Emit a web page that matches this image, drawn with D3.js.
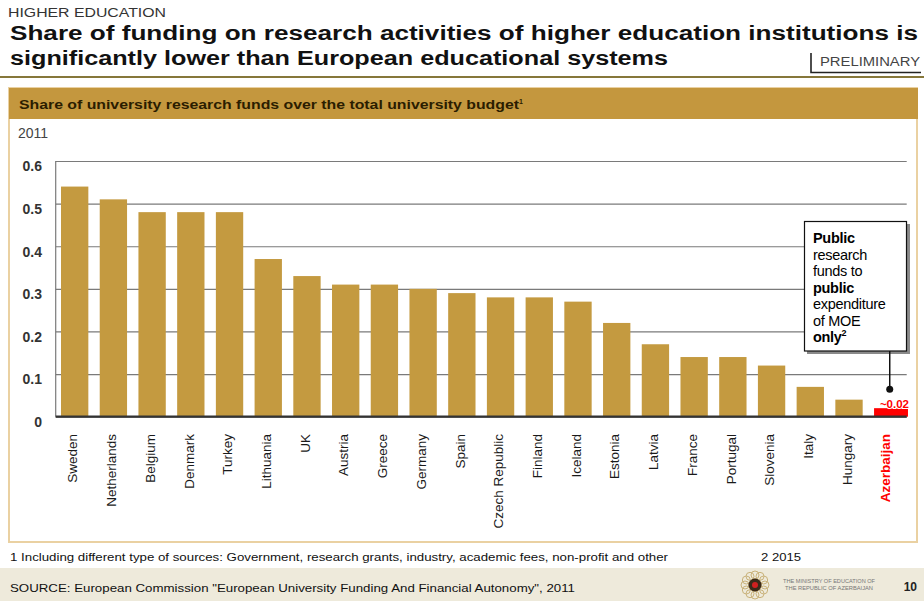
<!DOCTYPE html>
<html>
<head>
<meta charset="utf-8">
<script src="https://cdn.jsdelivr.net/npm/d3@7"></script>
<style>
  body { margin: 0; background: #fff; }
  svg { display: block; font-family: "Liberation Sans", Arial, sans-serif; }
</style>
</head>
<body>
<div id="chart"></div>
<script>
const countries = ["Sweden", "Netherlands", "Belgium", "Denmark", "Turkey", "Lithuania", "UK",
    "Austria", "Greece", "Germany", "Spain", "Czech Republic", "Finland", "Iceland", "Estonia",
    "Latvia", "France", "Portugal", "Slovenia", "Italy", "Hungary", "Azerbaijan"];
const shares = [0.54, 0.51, 0.48, 0.48, 0.48, 0.37, 0.33, 0.31, 0.31, 0.30, 0.29, 0.28, 0.28,
    0.27, 0.22, 0.17, 0.14, 0.14, 0.12, 0.07, 0.04, 0.02];
const yTicks = [0, 0.1, 0.2, 0.3, 0.4, 0.5, 0.6];
const highlight = "Azerbaijan";
const highlightLabel = "~0.02";
const calloutLines = [
    {text: "Public", bold: true},
    {text: "research", bold: false},
    {text: "funds to", bold: false},
    {text: "public", bold: true},
    {text: "expenditure", bold: false},
    {text: "of MOE", bold: false},
    {text: "only", bold: true, sup: "2"}
];

const width = 924;
const height = 601;
const gold = "#c49a40";

const data = countries.map((c, i) => ({country: c, value: shares[i]}));

const svg = d3.select("#chart").append("svg")
    .attr("width", width)
    .attr("height", height);

// header
svg.append("text")
    .attr("x", 8).attr("y", 17)
    .attr("font-size", 12).attr("fill", "#333")
    .attr("textLength", 158).attr("lengthAdjust", "spacingAndGlyphs")
    .text("HIGHER EDUCATION");

svg.append("text")
    .attr("x", 10).attr("y", 40)
    .attr("font-size", 19.5).attr("font-weight", "bold").attr("fill", "#111")
    .attr("textLength", 908).attr("lengthAdjust", "spacingAndGlyphs")
    .text("Share of funding on research activities of higher education institutions is");

svg.append("text")
    .attr("x", 10).attr("y", 65)
    .attr("font-size", 19.5).attr("font-weight", "bold").attr("fill", "#111")
    .attr("textLength", 658).attr("lengthAdjust", "spacingAndGlyphs")
    .text("significantly lower than European educational systems");

// PRELIMINARY tag
svg.append("text")
    .attr("x", 820).attr("y", 66)
    .attr("font-size", 12.5).attr("fill", "#444")
    .attr("textLength", 100).attr("lengthAdjust", "spacingAndGlyphs")
    .text("PRELIMINARY");
svg.append("path")
    .attr("d", "M811,53V72.5H921")
    .attr("fill", "none").attr("stroke", "#222").attr("stroke-width", 1.6);

svg.append("line")
    .attr("x1", 0).attr("x2", width).attr("y1", 77).attr("y2", 77)
    .attr("stroke", "#86773a").attr("stroke-width", 2);

// chart frame + gold band
svg.append("rect")
    .attr("x", 9).attr("y", 88).attr("width", 908).attr("height", 454)
    .attr("fill", "#fff").attr("stroke", "#ead1a2").attr("stroke-width", 2);
svg.append("rect")
    .attr("x", 9).attr("y", 88).attr("width", 909).attr("height", 31)
    .attr("fill", "#c4973e");

const sub = svg.append("text")
    .attr("x", 19).attr("y", 109)
    .attr("font-size", 12).attr("font-weight", "bold").attr("fill", "#2b1d00");
sub.append("tspan")
    .attr("textLength", 500).attr("lengthAdjust", "spacingAndGlyphs")
    .text("Share of university research funds over the total university budget");
sub.append("tspan").attr("font-size", 7).attr("dy", -5).text("1");

svg.append("text")
    .attr("x", 18).attr("y", 138)
    .attr("font-size", 14).attr("fill", "#444")
    .text("2011");

// scales
const x = d3.scaleBand()
    .domain(countries)
    .range([55.7, 906.7])
    .paddingInner(0.294)
    .paddingOuter(0.137);

const y = d3.scaleLinear()
    .domain([0, 0.6])
    .range([416.7, 161]);

// gridlines
svg.append("g")
    .attr("transform", "translate(55.7,0)")
    .call(d3.axisLeft(y).tickValues(yTicks).tickSize(-(906.7 - 55.7)).tickFormat(""))
    .call(g => g.select(".domain").remove())
    .call(g => g.selectAll(".tick line").attr("stroke", "#7a7a7a").attr("stroke-width", 1.2));

svg.append("line")
    .attr("x1", 55.7).attr("x2", 55.7).attr("y1", y(0.6)).attr("y2", y(0))
    .attr("stroke", "#7a7a7a").attr("stroke-width", 1.2);

// y tick labels
svg.append("g")
    .selectAll("text")
    .data(yTicks)
    .join("text")
    .attr("x", 42)
    .attr("y", d => y(d) + 5.5)
    .attr("dy", "0.35em")
    .attr("text-anchor", "end")
    .attr("font-size", 14).attr("font-weight", "bold").attr("fill", "#333")
    .text(d => d === 0 ? "0" : d3.format(".1f")(d));

// bars
svg.append("g")
    .selectAll("rect")
    .data(data)
    .join("rect")
    .attr("x", d => x(d.country))
    .attr("width", d => d.country === highlight ? x.bandwidth() + x.step() * 0.17 : x.bandwidth())
    .attr("y", d => y(d.value))
    .attr("height", d => y(0) - y(d.value))
    .attr("fill", d => d.country === highlight ? "#ff0000" : gold);

// zero axis
svg.append("line")
    .attr("x1", 55.7).attr("x2", 906.7).attr("y1", y(0)).attr("y2", y(0))
    .attr("stroke", "#333").attr("stroke-width", 2.2);

// highlight value label
const hl = data.find(d => d.country === highlight);
svg.append("text")
    .attr("x", x(hl.country) + x.bandwidth() / 2 + x.step() * 0.55)
    .attr("y", y(hl.value) - 4)
    .attr("dy", "0.35em")
    .attr("text-anchor", "end")
    .attr("font-size", 11.5).attr("font-weight", "bold").attr("fill", "#ff0000")
    .attr("stroke", "#fff").attr("stroke-width", 2).attr("paint-order", "stroke")
    .text(highlightLabel);

// x labels
svg.append("g")
    .selectAll("text")
    .data(countries)
    .join("text")
    .attr("transform", d => `translate(${x(d) + x.bandwidth() / 2 - 2},434) rotate(-90)`)
    .attr("dy", "0.35em")
    .attr("text-anchor", "end")
    .attr("font-size", 13.5)
    .attr("font-weight", d => d === highlight ? "bold" : "normal")
    .attr("fill", d => d === highlight ? "#ff0000" : "#1a1a1a")
    .text(d => d);

// callout
const cx = x(highlight) + x.bandwidth() / 2 + 2;
svg.append("rect")
    .attr("x", 807).attr("y", 224).attr("width", 103).attr("height", 130)
    .attr("fill", "#8a8a8a");
svg.append("rect")
    .attr("x", 804.5).attr("y", 221.5).attr("width", 102).attr("height", 129.5)
    .attr("fill", "#fff").attr("stroke", "#111").attr("stroke-width", 1.2);

const cl = svg.append("g")
    .selectAll("text")
    .data(calloutLines)
    .join("text")
    .attr("x", 813)
    .attr("y", (d, i) => 243 + i * 16.5)
    .attr("font-size", 14.5)
    .attr("letter-spacing", -0.3)
    .attr("font-weight", d => d.bold ? "bold" : "normal")
    .attr("fill", "#000")
    .text(d => d.text);
cl.filter(d => d.sup)
    .append("tspan")
    .attr("font-size", 9).attr("dy", -6)
    .text(d => d.sup);

svg.append("line")
    .attr("x1", cx).attr("x2", cx).attr("y1", 351).attr("y2", y(hl.value) - 19)
    .attr("stroke", "#111").attr("stroke-width", 1.5);
svg.append("circle")
    .attr("cx", cx).attr("cy", y(hl.value) - 19).attr("r", 3.5)
    .attr("fill", "#111");

// footnotes
svg.append("text")
    .attr("x", 10).attr("y", 561)
    .attr("font-size", 11).attr("fill", "#111")
    .attr("textLength", 658).attr("lengthAdjust", "spacingAndGlyphs")
    .text("1 Including different  type of sources: Government,  research grants, industry, academic fees, non-profit  and other");
svg.append("text")
    .attr("x", 761).attr("y", 561)
    .attr("font-size", 11).attr("fill", "#111")
    .attr("textLength", 40).attr("lengthAdjust", "spacingAndGlyphs")
    .text("2 2015");

// footer band
svg.append("rect")
    .attr("x", 0).attr("y", 568).attr("width", width).attr("height", height - 568)
    .attr("fill", "#eeeadb");
svg.append("text")
    .attr("x", 10).attr("y", 592)
    .attr("font-size", 11).attr("fill", "#111")
    .attr("textLength", 565).attr("lengthAdjust", "spacingAndGlyphs")
    .text("SOURCE: European Commission \"European University Funding And Financial Autonomy\", 2011");
svg.append("text")
    .attr("x", 917).attr("y", 591)
    .attr("text-anchor", "end")
    .attr("font-size", 12).attr("font-weight", "bold").attr("fill", "#222")
    .text("10");

// ministry emblem
const logo = svg.append("g").attr("transform", "translate(755,585)");
logo.selectAll("circle.petal")
    .data(d3.range(12))
    .join("circle")
    .attr("class", "petal")
    .attr("cx", d => Math.cos(d * Math.PI / 6) * 10)
    .attr("cy", d => Math.sin(d * Math.PI / 6) * 10)
    .attr("r", 4)
    .attr("fill", "none").attr("stroke", "#c9b27a").attr("stroke-width", 1);
logo.append("circle").attr("r", 6.5).attr("fill", "#3a2a1a");
logo.append("circle").attr("r", 3).attr("fill", "#d02020");
logo.append("text")
    .attr("x", 28).attr("y", -2)
    .attr("font-size", 5).attr("fill", "#777")
    .attr("textLength", 92).attr("lengthAdjust", "spacingAndGlyphs")
    .text("THE MINISTRY OF EDUCATION OF");
logo.append("text")
    .attr("x", 30).attr("y", 5)
    .attr("font-size", 5).attr("fill", "#777")
    .attr("textLength", 88).attr("lengthAdjust", "spacingAndGlyphs")
    .text("THE REPUBLIC OF AZERBAIJAN");
</script>
</body>
</html>
